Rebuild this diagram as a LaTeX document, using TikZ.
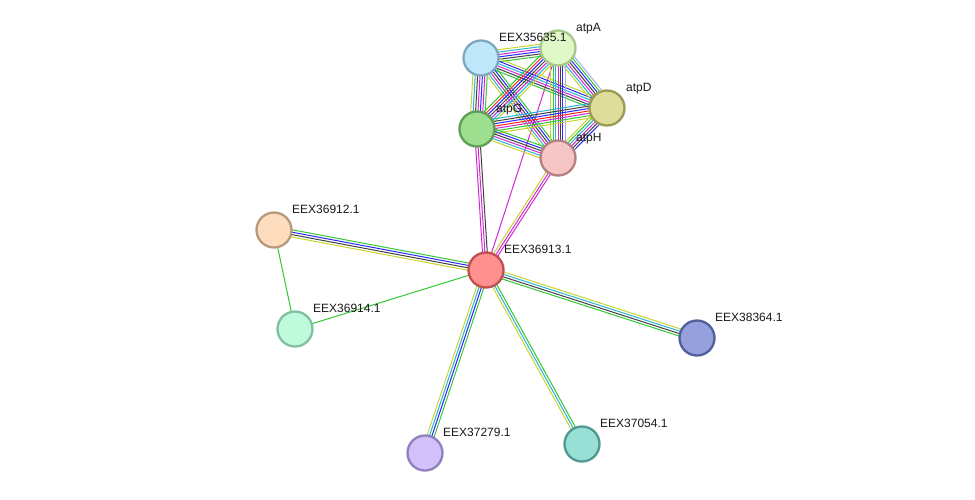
\documentclass[tikz,border=0pt]{standalone}
\usepackage{fontspec}
\setmainfont{Liberation Sans}
\usetikzlibrary{calc,backgrounds}
\definecolor{tgreen}{RGB}{50,200,50}
\definecolor{tred}{RGB}{255,30,30}
\definecolor{tblue}{RGB}{40,40,255}
\definecolor{tblack}{RGB}{64,64,64}
\definecolor{tmagenta}{RGB}{210,40,210}
\definecolor{tcyan}{RGB}{40,180,215}
\definecolor{tyellow}{RGB}{200,212,44}
\definecolor{tlav}{RGB}{170,170,240}
\tikzset{
  prot/.style={circle, draw, line width=2.3pt, minimum size=35pt, inner sep=0pt},
  lbl/.style={font=\fontsize{12}{14}\selectfont, anchor=base west, inner sep=0pt, text=black!90},
  ebundle/.style={line width=1.0pt}
}
\newcommand\bnd[4]{%
  \foreach \cc [count=\ii] in {#4} {
    \pgfmathsetmacro\oo{(\ii-(#3+1)/2)*2.4}
    \draw[\cc, ebundle] ($(#1)!\oo pt!90:(#2)$) -- ($(#2)!\oo pt!-90:(#1)$);
  }}
\begin{document}
\begin{tikzpicture}[x=1pt,y=-1pt]
\useasboundingbox (0,0) rectangle (975,499);
% nodes
\node[prot, fill={rgb,255:red,192;green,230;blue,250}, draw={rgb,255:red,126;green,167;blue,194}] (n35635) at (481,58) {};
\node[prot, fill={rgb,255:red,224;green,248;blue,200}, draw={rgb,255:red,168;green,200;blue,138}] (atpA) at (558,48) {};
\node[prot, fill={rgb,255:red,222;green,222;blue,154}, draw={rgb,255:red,154;green,154;blue,82}] (atpD) at (607,108) {};
\node[prot, fill={rgb,255:red,157;green,223;blue,142}, draw={rgb,255:red,94;green,158;blue,88}] (atpG) at (477,129) {};
\node[prot, fill={rgb,255:red,246;green,198;blue,198}, draw={rgb,255:red,182;green,128;blue,128}] (atpH) at (558,158) {};
\node[prot, fill={rgb,255:red,255;green,144;blue,144}, draw={rgb,255:red,192;green,80;blue,80}] (n36913) at (486,270) {};
\node[prot, fill={rgb,255:red,254;green,220;blue,190}, draw={rgb,255:red,184;green,154;blue,122}] (n36912) at (274,230) {};
\node[prot, fill={rgb,255:red,192;green,250;blue,220}, draw={rgb,255:red,128;green,192;blue,160}] (n36914) at (295,329) {};
\node[prot, fill={rgb,255:red,150;green,160;blue,220}, draw={rgb,255:red,80;green,96;blue,154}] (n38364) at (697,338) {};
\node[prot, fill={rgb,255:red,210;green,192;blue,250}, draw={rgb,255:red,144;green,128;blue,192}] (n37279) at (425,453) {};
\node[prot, fill={rgb,255:red,152;green,224;blue,214}, draw={rgb,255:red,80;green,152;blue,144}] (n37054) at (582,444) {};
% labels
\node[lbl] (l35635) at ([shift={(18,-16.7)}]n35635.center) {EEX35635.1};
\node[lbl] (latpA) at ([shift={(18,-16.7)}]atpA.center) {atpA};
\node[lbl] (latpD) at ([shift={(19,-16.7)}]atpD.center) {atpD};
\node[lbl] (latpG) at ([shift={(19,-16.7)}]atpG.center) {atpG};
\node[lbl] (latpH) at ([shift={(18,-16.7)}]atpH.center) {atpH};
\node[lbl] (l36913) at ([shift={(18,-16.7)}]n36913.center) {EEX36913.1};
\node[lbl] (l36912) at ([shift={(18,-16.7)}]n36912.center) {EEX36912.1};
\node[lbl] (l36914) at ([shift={(18,-16.7)}]n36914.center) {EEX36914.1};
\node[lbl] (l38364) at ([shift={(18,-16.7)}]n38364.center) {EEX38364.1};
\node[lbl] (l37279) at ([shift={(18,-16.7)}]n37279.center) {EEX37279.1};
\node[lbl] (l37054) at ([shift={(18,-16.7)}]n37054.center) {EEX37054.1};
% edges
\begin{pgfonlayer}{background}
\bnd{n36913}{n36912}{4}{tgreen,tblue,tblack,tyellow}
\bnd{n36913}{n36914}{1}{tgreen}
\bnd{n36912}{n36914}{1}{tgreen}
\bnd{n36913}{n38364}{4}{tgreen,tblack,tcyan,tyellow}
\bnd{n36913}{n37279}{4}{tyellow,tcyan,tblue,tgreen}
\bnd{n36913}{n37054}{3}{tyellow,tcyan,tgreen}
\bnd{n36913}{atpG}{3}{tblack,tmagenta,tmagenta}
\bnd{n36913}{atpA}{1}{tmagenta}
\bnd{n36913}{atpH}{3}{tmagenta,tmagenta,tyellow}
\bnd{n35635}{atpA}{6}{tgreen,tblack,tblue,tmagenta,tcyan,tyellow}
\bnd{n35635}{atpG}{7}{tyellow,tcyan,tblack,tmagenta,tblue,tmagenta,tgreen}
\bnd{n35635}{atpD}{6}{tgreen,tblack,tmagenta,tcyan,tblue,tyellow}
\bnd{n35635}{atpH}{6}{tyellow,tcyan,tmagenta,tblack,tblue,tgreen}
\bnd{atpA}{atpD}{7}{tyellow,tcyan,tmagenta,tblack,tblue,tgreen,tlav}
\bnd{atpA}{atpG}{7}{tgreen,tred,tblue,tblack,tmagenta,tcyan,tyellow}
\bnd{atpA}{atpH}{7}{tyellow,tgreen,tcyan,tmagenta,tblack,tblue,tlav}
\bnd{atpG}{atpD}{7}{tyellow,tgreen,tmagenta,tred,tblue,tblack,tcyan}
\bnd{atpG}{atpH}{6}{tyellow,tcyan,tmagenta,tblack,tblue,tgreen}
\bnd{atpD}{atpH}{6}{tyellow,tgreen,tcyan,tmagenta,tblack,tblue}
\end{pgfonlayer}
\end{tikzpicture}
\end{document}
